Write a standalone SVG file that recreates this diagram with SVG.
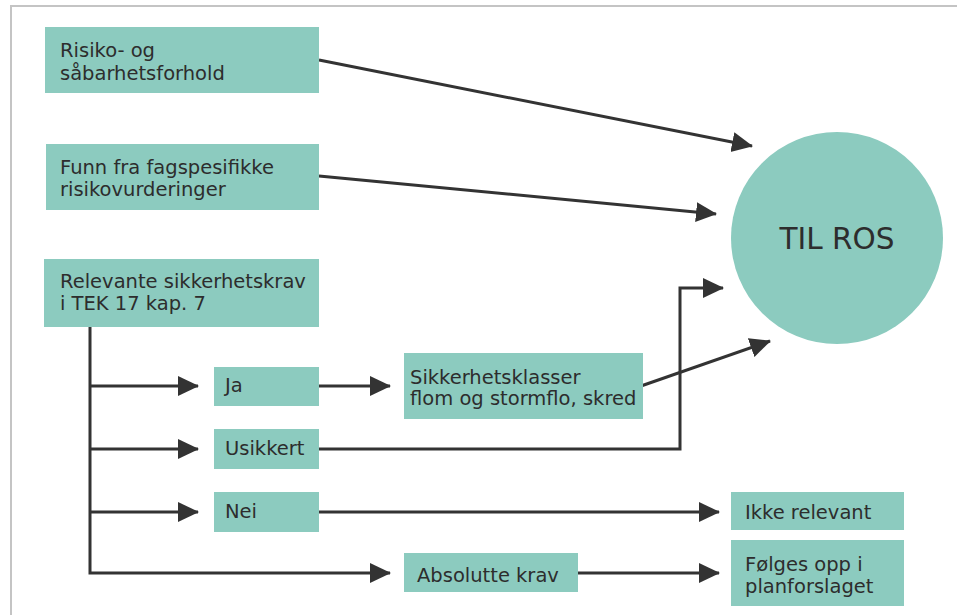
<svg xmlns="http://www.w3.org/2000/svg" width="957" height="615" viewBox="0 0 957 615">
<style>
.box{fill:#8ccbbf;}
.t{font-family:"DejaVu Sans","Liberation Sans",Arial,sans-serif;font-size:19.5px;fill:#2d2d2d;}
.big{font-family:"DejaVu Sans","Liberation Sans",Arial,sans-serif;font-size:29.5px;fill:#2d2d2d;text-anchor:middle;}
.ln{fill:none;stroke:#333;stroke-width:3;}
</style>
<defs>
<marker id="ah" markerUnits="userSpaceOnUse" markerWidth="22" markerHeight="22" viewBox="0 0 22 22" refX="20" refY="11" orient="auto">
<path d="M0,1 L21,11 L0,21 Z" fill="#333"/>
</marker>
</defs>
<rect width="957" height="615" fill="#fff"/>
<path d="M11,615 V6 H957" fill="none" stroke="#c4c4c4" stroke-width="2"/>
<g id="connectors">
<line class="ln" x1="319" y1="60" x2="752" y2="146" marker-end="url(#ah)"/>
<line class="ln" x1="319" y1="176" x2="716" y2="214" marker-end="url(#ah)"/>
<path class="ln" d="M90,327 V573 H390" marker-end="url(#ah)"/>
<line class="ln" x1="90" y1="386" x2="198" y2="386" marker-end="url(#ah)"/>
<line class="ln" x1="90" y1="449" x2="198" y2="449" marker-end="url(#ah)"/>
<line class="ln" x1="90" y1="512" x2="198" y2="512" marker-end="url(#ah)"/>
<line class="ln" x1="319" y1="386" x2="390" y2="386" marker-end="url(#ah)"/>
<path class="ln" d="M319,449 H680 V288 H723" marker-end="url(#ah)"/>
<line class="ln" x1="641" y1="386" x2="770" y2="341" marker-end="url(#ah)"/>
<line class="ln" x1="319" y1="512" x2="719" y2="512" marker-end="url(#ah)"/>
<line class="ln" x1="578" y1="573" x2="719" y2="573" marker-end="url(#ah)"/>
</g>
<g id="n-risiko"><rect class="box" x="45" y="27" width="274" height="66"/><text class="t" x="60" y="57">Risiko- og</text><text class="t" x="60" y="80">såbarhetsforhold</text></g>
<g id="n-funn"><rect class="box" x="46" y="144" width="273" height="66"/><text class="t" x="60" y="174">Funn fra fagspesifikke</text><text class="t" x="60" y="196">risikovurderinger</text></g>
<g id="n-relevante"><rect class="box" x="44" y="259" width="275" height="68"/><text class="t" x="60" y="288">Relevante sikkerhetskrav</text><text class="t" x="60" y="310">i TEK 17 kap. 7</text></g>
<g id="n-ja"><rect class="box" x="214" y="367" width="105" height="39"/><text class="t" x="225" y="392">Ja</text></g>
<g id="n-usikkert"><rect class="box" x="214" y="429" width="105" height="40"/><text class="t" x="225" y="455">Usikkert</text></g>
<g id="n-nei"><rect class="box" x="214" y="492" width="105" height="40"/><text class="t" x="225" y="518">Nei</text></g>
<g id="n-sikkerhet"><rect class="box" x="404" y="353" width="239" height="66"/><text class="t" x="410" y="384">Sikkerhetsklasser</text><text class="t" x="410" y="405">flom og stormflo, skred</text></g>
<g id="n-absolutte"><rect class="box" x="404" y="553" width="174" height="39"/><text class="t" x="417" y="582">Absolutte krav</text></g>
<g id="n-ikke"><rect class="box" x="731" y="492" width="173" height="38"/><text class="t" x="745" y="519">Ikke relevant</text></g>
<g id="n-folges"><rect class="box" x="731" y="540" width="173" height="66"/><text class="t" x="745" y="571">Følges opp i</text><text class="t" x="745" y="593">planforslaget</text></g>
<g id="n-tilros"><circle class="box" cx="837" cy="238" r="106"/><text class="big" x="837" y="249">TIL ROS</text></g>
</svg>
